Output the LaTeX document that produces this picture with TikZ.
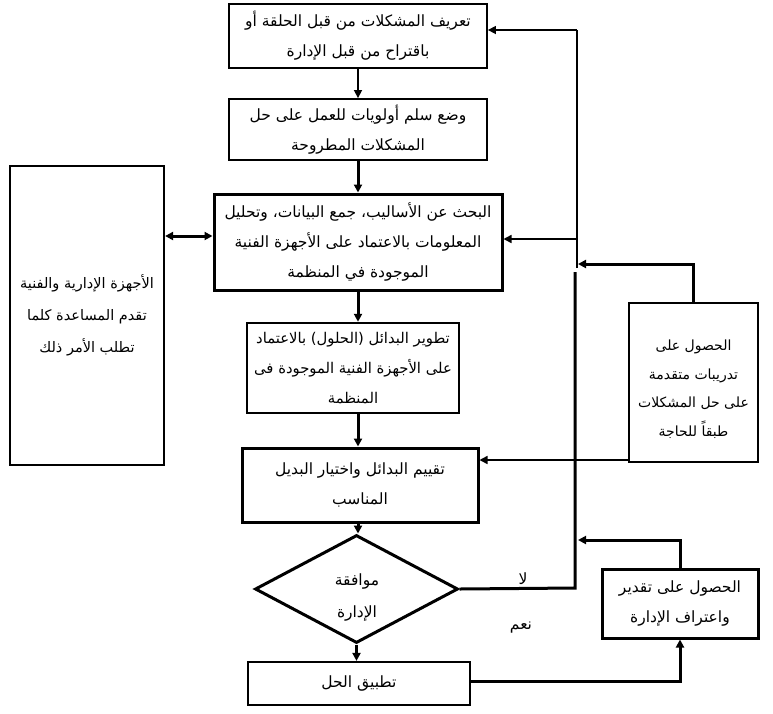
\documentclass[tikz,border=0pt]{standalone}
\usepackage{fontspec}
\newfontfamily\arabicfont[Script=Arabic]{DejaVu Sans}
\TeXXeTstate=1
\usetikzlibrary{arrows.meta,shapes.geometric}
\newcommand{\ar}[1]{\beginR #1\endR}
\newcommand{\fsz}[1]{\fontsize{#1}{30}\selectfont}
\begin{document}
\begin{tikzpicture}[x=1pt,y=-1pt,
  box/.style={draw,rectangle,inner sep=0pt,align=center,font=\arabicfont\fsz{15.5}},
  arr/.style={-{Triangle[length=8pt,width=8pt]}},
  dbl/.style={{Triangle[length=8pt,width=8pt]}-{Triangle[length=8pt,width=8pt]}},
  thin/.style={line width=1.5pt},
  thick/.style={line width=3pt},
  lbl/.style={font=\arabicfont\fsz{15.5},inner sep=0pt}]
\useasboundingbox (0,0) rectangle (773,713);
\fill[white] (0,0) rectangle (773,713);

\node[box,line width=1.8pt,minimum width=258pt,minimum height=64pt] (b1) at (358,36)
  {\ar{تعريف المشكلات من قبل الحلقة أو}\\\ar{باقتراح من قبل الإدارة}};
\node[box,line width=1.8pt,minimum width=258pt,minimum height=61pt] (b2) at (358,129.5)
  {\ar{وضع سلم أولويات للعمل على حل}\\\ar{المشكلات المطروحة}};
\node[box,line width=3pt,minimum width=288pt,minimum height=96pt] (b3) at (358,242)
  {\ar{البحث عن الأساليب، جمع البيانات، وتحليل}\\\ar{المعلومات بالاعتماد على الأجهزة الفنية}\\\ar{الموجودة في المنظمة}};
\node[box,line width=2.2pt,minimum width=154pt,minimum height=299pt,font=\arabicfont\fsz{14.5}] (lf) at (87,315.5)
  {\ar{الأجهزة الإدارية والفنية}\\[2pt]\ar{تقدم المساعدة كلما}\\[2pt]\ar{تطلب الأمر ذلك}};
\node[box,line width=2.5pt,minimum width=212pt,minimum height=90pt,font=\arabicfont\fsz{14.8}] (b4) at (353,368)
  {\ar{تطوير البدائل (الحلول) بالاعتماد}\\\ar{على الأجهزة الفنية الموجودة فى}\\\ar{المنظمة}};
\node[box,line width=3pt,minimum width=236pt,minimum height=74pt] (b5) at (360,485)
  {\ar{تقييم البدائل واختيار البديل}\\\ar{المناسب}};
\node[draw,diamond,aspect=1.88,inner sep=0pt,line width=3pt,minimum width=203pt,minimum height=108pt] (dia) at (356.5,589) {};
\node[box,draw=none] (diat) at (357,597) {\ar{موافقة}\\[2pt]\ar{الإدارة}};
\node[box,line width=2.2pt,minimum width=222pt,minimum height=43pt] (b7) at (359,683.5)
  {\ar{تطبيق الحل}};
\node[draw,rectangle,inner sep=0pt,line width=2.2pt,minimum width=129pt,minimum height=159pt] (tr) at (693.5,382.5) {};
\node[box,draw=none,font=\arabicfont\fontsize{14}{28.5}\selectfont] (trt) at (693.5,389)
  {\ar{الحصول على}\\\ar{تدريبات متقدمة}\\\ar{على حل المشكلات}\\\ar{طبقاً للحاجة}};
\node[box,line width=3pt,minimum width=156pt,minimum height=69pt] (tq) at (680,603.5)
  {\ar{الحصول على تقدير}\\\ar{واعتراف الإدارة}};

\node[lbl] (no) at (523,579) {\ar{لا}};
\node[lbl] (yes) at (521,628) {\ar{نعم}};

% main vertical flow
\draw[arr,thin] (b1.south) -- (b1.south |- b2.north);
\draw[arr,thick] (b2.south) -- (b2.south |- b3.north);
\draw[arr,thick] (b3.south) -- (b3.south |- b4.north);
\draw[arr,thick] (b3.south |- b4.south) -- (b3.south |- b5.north);
\draw[arr,thick] (b3.south |- b5.south) -- (b3.south |- dia.north);
\draw[arr,thick] (dia.south) -- (dia.south |- b7.north);

% left double arrow
\draw[dbl,thick] (lf.east |- 0,236) -- (b3.west |- 0,236);

% right feedback
\coordinate (j1) at (577,30);
\coordinate (j2) at (577,239);
\coordinate (jt) at (577,268);
\coordinate (kt) at (575,272);
\coordinate (kb) at (575,588);
\draw[thin] (jt) -- (j1);
\draw[arr,thin] (j1) -- (b1.east |- j1);
\draw[arr,thin] (j2) -- (b3.east |- j2);
\draw[thick] (dia.east) -- (kb) -- (kt);
\coordinate (tt) at (tr.north |- 0,264);
\draw[arr,thick] (tr.north) -- (tt) -- (578,264);
\coordinate (qt) at (tq.north |- 0,540);
\draw[arr,thick] (tq.north) -- (qt) -- (578,540);
\coordinate (tl) at (tr.west |- 0,460);
\draw[arr,thin] (tl) -- (b5.east |- tl);
\coordinate (bl) at (b7.east |- 0,681);
\coordinate (br) at (tq.south |- bl);
\draw[arr,thick] (bl) -- (br) -- (tq.south);
\end{tikzpicture}
\end{document}
